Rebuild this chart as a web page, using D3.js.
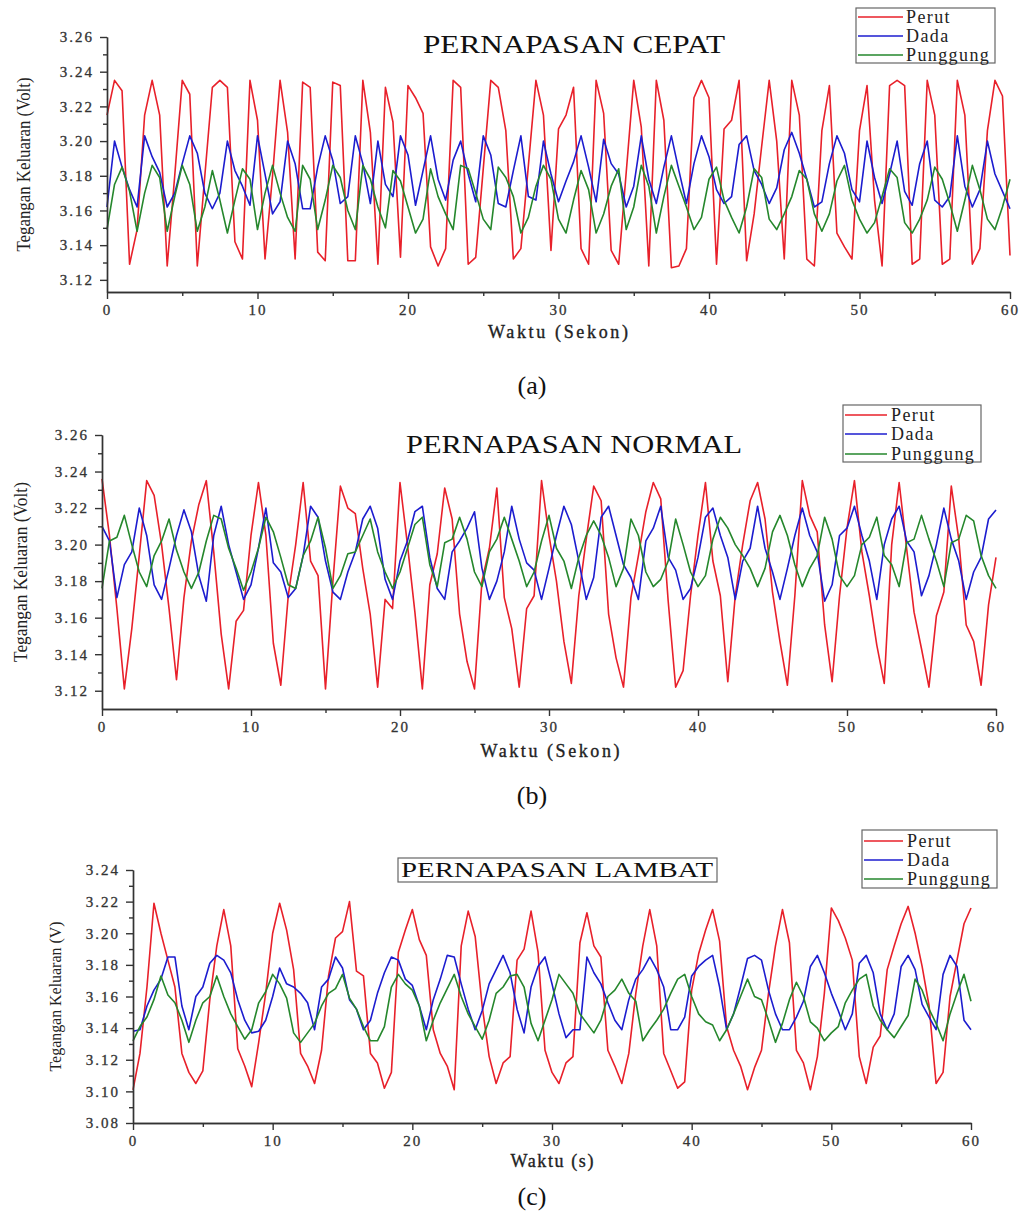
<!DOCTYPE html>
<html lang="en">
<head>
<meta charset="UTF-8">
<title>Pernapasan</title>
<script src="https://d3js.org/d3.v7.min.js"></script>
<style>
    body, html { margin: 0; padding: 0; background: #fff; }
    svg { display: block; }
    .tick text { font-family: "Liberation Serif", "Times New Roman", serif; font-size: 15px; fill: #333; letter-spacing: 2px; stroke: #333; stroke-width: 0.3px; }
    .axis path, .axis line { stroke: #333; stroke-width: 1.4px; }
</style>
</head>
<body>
<div id="chart"></div>
<script>
    // sampling every 0.5 s, 0..60 s
    const waktu = d3.range(0, 60.5, 0.5);

    const xTicks = [0, 10, 20, 30, 40, 50, 60];
    const seriesNames = ["Perut", "Dada", "Punggung"];

    // (a) pernapasan cepat
    const cepatPerut = [
        3.215, 3.235, 3.229, 3.129, 3.149, 3.215, 3.235, 3.215, 3.128, 3.180,
        3.235, 3.227, 3.128, 3.180, 3.231, 3.235, 3.231, 3.142, 3.132, 3.235,
        3.212, 3.132, 3.180, 3.235, 3.205, 3.132, 3.234, 3.231, 3.136, 3.131,
        3.234, 3.232, 3.131, 3.131, 3.235, 3.205, 3.129, 3.231, 3.211, 3.133,
        3.232, 3.225, 3.216, 3.139, 3.128, 3.138, 3.235, 3.231, 3.129, 3.133,
        3.184, 3.235, 3.231, 3.206, 3.132, 3.138, 3.186, 3.235, 3.215, 3.137,
        3.207, 3.215, 3.231, 3.138, 3.129, 3.235, 3.216, 3.137, 3.129, 3.182,
        3.235, 3.208, 3.128, 3.235, 3.212, 3.127, 3.128, 3.138, 3.225, 3.235,
        3.225, 3.129, 3.207, 3.212, 3.235, 3.131, 3.158, 3.197, 3.235, 3.200,
        3.132, 3.235, 3.215, 3.132, 3.128, 3.206, 3.232, 3.147, 3.139, 3.132,
        3.206, 3.232, 3.166, 3.128, 3.232, 3.235, 3.232, 3.129, 3.132, 3.235,
        3.215, 3.129, 3.132, 3.235, 3.215, 3.129, 3.138, 3.206, 3.235, 3.226,
        3.134
    ];
    const cepatDada = [
        3.162, 3.200, 3.185, 3.172, 3.162, 3.203, 3.191, 3.182, 3.162, 3.170,
        3.187, 3.203, 3.193, 3.170, 3.161, 3.170, 3.200, 3.183, 3.174, 3.163,
        3.203, 3.181, 3.158, 3.165, 3.200, 3.187, 3.161, 3.161, 3.185, 3.203,
        3.189, 3.164, 3.168, 3.203, 3.187, 3.164, 3.200, 3.175, 3.168, 3.203,
        3.192, 3.163, 3.183, 3.203, 3.178, 3.166, 3.189, 3.200, 3.181, 3.165,
        3.203, 3.192, 3.164, 3.162, 3.183, 3.203, 3.168, 3.166, 3.200, 3.181,
        3.165, 3.177, 3.188, 3.203, 3.185, 3.165, 3.201, 3.187, 3.181, 3.162,
        3.174, 3.203, 3.178, 3.164, 3.185, 3.203, 3.183, 3.164, 3.187, 3.203,
        3.191, 3.172, 3.164, 3.168, 3.198, 3.203, 3.183, 3.175, 3.164, 3.173,
        3.195, 3.205, 3.193, 3.178, 3.162, 3.165, 3.187, 3.203, 3.193, 3.172,
        3.165, 3.200, 3.179, 3.164, 3.181, 3.200, 3.171, 3.163, 3.187, 3.200,
        3.166, 3.162, 3.168, 3.203, 3.174, 3.162, 3.172, 3.200, 3.181, 3.171,
        3.161
    ];
    const cepatPunggung = [
        3.149, 3.175, 3.185, 3.171, 3.148, 3.170, 3.186, 3.179, 3.148, 3.168,
        3.186, 3.175, 3.148, 3.162, 3.183, 3.166, 3.147, 3.166, 3.184, 3.178,
        3.149, 3.170, 3.186, 3.170, 3.156, 3.148, 3.186, 3.178, 3.149, 3.166,
        3.186, 3.179, 3.160, 3.149, 3.186, 3.178, 3.162, 3.150, 3.183, 3.177,
        3.162, 3.147, 3.155, 3.184, 3.168, 3.158, 3.149, 3.186, 3.184, 3.170,
        3.155, 3.149, 3.185, 3.179, 3.168, 3.147, 3.156, 3.174, 3.186, 3.178,
        3.155, 3.147, 3.166, 3.183, 3.172, 3.147, 3.158, 3.174, 3.184, 3.149,
        3.162, 3.186, 3.174, 3.147, 3.168, 3.186, 3.174, 3.162, 3.149, 3.156,
        3.178, 3.185, 3.166, 3.156, 3.147, 3.162, 3.184, 3.179, 3.155, 3.149,
        3.158, 3.168, 3.183, 3.178, 3.158, 3.148, 3.158, 3.177, 3.186, 3.166,
        3.155, 3.147, 3.153, 3.168, 3.184, 3.179, 3.153, 3.147, 3.155, 3.166,
        3.185, 3.178, 3.164, 3.148, 3.166, 3.186, 3.172, 3.155, 3.149, 3.162,
        3.178
    ];
    const cepatYTicks = [3.12, 3.14, 3.16, 3.18, 3.20, 3.22, 3.24, 3.26];

    // (b) pernapasan normal
    const normalPerut = [
        3.236, 3.205, 3.165, 3.121, 3.154, 3.194, 3.235, 3.227, 3.200, 3.165,
        3.126, 3.171, 3.202, 3.222, 3.235, 3.196, 3.151, 3.121, 3.158, 3.164,
        3.205, 3.234, 3.205, 3.146, 3.123, 3.172, 3.200, 3.234, 3.191, 3.183,
        3.121, 3.180, 3.232, 3.220, 3.217, 3.187, 3.162, 3.122, 3.170, 3.165,
        3.234, 3.200, 3.163, 3.121, 3.178, 3.195, 3.231, 3.214, 3.162, 3.136,
        3.121, 3.180, 3.198, 3.231, 3.171, 3.154, 3.122, 3.165, 3.172, 3.235,
        3.205, 3.180, 3.147, 3.124, 3.172, 3.203, 3.232, 3.224, 3.162, 3.138,
        3.122, 3.171, 3.194, 3.218, 3.234, 3.225, 3.169, 3.122, 3.131, 3.172,
        3.205, 3.234, 3.191, 3.172, 3.125, 3.172, 3.200, 3.224, 3.234, 3.214,
        3.174, 3.147, 3.123, 3.172, 3.235, 3.216, 3.207, 3.156, 3.125, 3.172,
        3.209, 3.235, 3.196, 3.172, 3.145, 3.124, 3.200, 3.234, 3.198, 3.163,
        3.143, 3.122, 3.161, 3.174, 3.232, 3.203, 3.156, 3.147, 3.123, 3.167,
        3.193
    ];
    const normalDada = [
        3.210, 3.202, 3.171, 3.189, 3.196, 3.220, 3.205, 3.178, 3.170, 3.187,
        3.205, 3.219, 3.207, 3.183, 3.169, 3.205, 3.221, 3.200, 3.185, 3.170,
        3.178, 3.198, 3.220, 3.190, 3.185, 3.171, 3.176, 3.194, 3.221, 3.215,
        3.191, 3.174, 3.170, 3.185, 3.196, 3.214, 3.221, 3.209, 3.181, 3.170,
        3.191, 3.202, 3.218, 3.221, 3.193, 3.176, 3.170, 3.196, 3.202, 3.209,
        3.218, 3.187, 3.170, 3.180, 3.196, 3.221, 3.203, 3.190, 3.186, 3.170,
        3.187, 3.205, 3.221, 3.211, 3.191, 3.170, 3.182, 3.215, 3.221, 3.205,
        3.189, 3.182, 3.170, 3.202, 3.209, 3.221, 3.193, 3.186, 3.170, 3.176,
        3.193, 3.215, 3.220, 3.205, 3.193, 3.170, 3.191, 3.198, 3.221, 3.198,
        3.185, 3.170, 3.187, 3.205, 3.220, 3.205, 3.196, 3.169, 3.178, 3.205,
        3.209, 3.221, 3.205, 3.191, 3.170, 3.200, 3.214, 3.221, 3.202, 3.196,
        3.172, 3.183, 3.200, 3.220, 3.203, 3.191, 3.170, 3.185, 3.193, 3.214,
        3.219
    ];
    const normalPunggung = [
        3.176, 3.202, 3.204, 3.216, 3.200, 3.185, 3.177, 3.194, 3.202, 3.214,
        3.197, 3.185, 3.176, 3.185, 3.202, 3.216, 3.214, 3.198, 3.187, 3.175,
        3.185, 3.198, 3.215, 3.207, 3.193, 3.178, 3.176, 3.194, 3.202, 3.215,
        3.198, 3.176, 3.183, 3.195, 3.196, 3.205, 3.214, 3.196, 3.185, 3.176,
        3.185, 3.198, 3.211, 3.215, 3.189, 3.177, 3.201, 3.203, 3.215, 3.203,
        3.185, 3.177, 3.196, 3.203, 3.215, 3.203, 3.191, 3.177, 3.185, 3.202,
        3.216, 3.198, 3.191, 3.176, 3.193, 3.205, 3.213, 3.205, 3.193, 3.177,
        3.187, 3.214, 3.205, 3.185, 3.177, 3.181, 3.191, 3.214, 3.200, 3.185,
        3.177, 3.183, 3.203, 3.215, 3.209, 3.200, 3.194, 3.187, 3.177, 3.187,
        3.207, 3.216, 3.205, 3.189, 3.177, 3.187, 3.194, 3.215, 3.203, 3.183,
        3.177, 3.183, 3.200, 3.204, 3.215, 3.194, 3.189, 3.177, 3.201, 3.203,
        3.216, 3.203, 3.191, 3.177, 3.201, 3.203, 3.216, 3.213, 3.194, 3.183,
        3.176
    ];
    const normalYTicks = [3.12, 3.14, 3.16, 3.18, 3.20, 3.22, 3.24, 3.26];

    // (c) pernapasan lambat
    const lambatPerut = [
        3.101, 3.124, 3.166, 3.219, 3.200, 3.183, 3.166, 3.124, 3.112, 3.105,
        3.113, 3.158, 3.192, 3.215, 3.192, 3.127, 3.116, 3.103, 3.131, 3.162,
        3.200, 3.219, 3.202, 3.177, 3.124, 3.116, 3.105, 3.126, 3.173, 3.197,
        3.201, 3.220, 3.176, 3.173, 3.124, 3.118, 3.102, 3.112, 3.188, 3.202,
        3.215, 3.196, 3.186, 3.139, 3.124, 3.116, 3.101, 3.192, 3.214, 3.198,
        3.154, 3.122, 3.105, 3.118, 3.122, 3.183, 3.190, 3.214, 3.188, 3.126,
        3.112, 3.105, 3.118, 3.122, 3.194, 3.213, 3.192, 3.185, 3.126, 3.116,
        3.105, 3.124, 3.162, 3.192, 3.215, 3.192, 3.124, 3.113, 3.102, 3.106,
        3.164, 3.187, 3.202, 3.215, 3.195, 3.141, 3.126, 3.116, 3.101, 3.115,
        3.126, 3.162, 3.192, 3.215, 3.194, 3.126, 3.118, 3.101, 3.122, 3.162,
        3.216, 3.208, 3.197, 3.183, 3.122, 3.105, 3.128, 3.135, 3.177, 3.192,
        3.206, 3.217, 3.200, 3.179, 3.154, 3.105, 3.112, 3.160, 3.183, 3.206,
        3.216
    ];
    const lambatDada = [
        3.138, 3.139, 3.154, 3.164, 3.171, 3.185, 3.185, 3.154, 3.139, 3.160,
        3.166, 3.181, 3.186, 3.183, 3.175, 3.158, 3.145, 3.137, 3.138, 3.145,
        3.160, 3.178, 3.168, 3.166, 3.162, 3.156, 3.139, 3.166, 3.171, 3.185,
        3.178, 3.158, 3.152, 3.139, 3.145, 3.162, 3.175, 3.185, 3.183, 3.171,
        3.167, 3.154, 3.139, 3.158, 3.171, 3.186, 3.185, 3.168, 3.152, 3.139,
        3.151, 3.168, 3.177, 3.186, 3.175, 3.152, 3.137, 3.166, 3.179, 3.185,
        3.168, 3.149, 3.134, 3.139, 3.139, 3.185, 3.175, 3.168, 3.156, 3.145,
        3.139, 3.158, 3.171, 3.177, 3.185, 3.177, 3.166, 3.139, 3.139, 3.147,
        3.173, 3.179, 3.183, 3.186, 3.166, 3.139, 3.149, 3.166, 3.184, 3.186,
        3.183, 3.164, 3.149, 3.139, 3.139, 3.147, 3.157, 3.179, 3.186, 3.175,
        3.162, 3.151, 3.139, 3.149, 3.181, 3.186, 3.175, 3.149, 3.139, 3.149,
        3.179, 3.186, 3.177, 3.155, 3.147, 3.139, 3.174, 3.186, 3.179, 3.145,
        3.139
    ];
    const lambatPunggung = [
        3.132, 3.141, 3.147, 3.158, 3.173, 3.161, 3.156, 3.145, 3.131, 3.145,
        3.156, 3.160, 3.173, 3.160, 3.149, 3.141, 3.133, 3.139, 3.156, 3.163,
        3.174, 3.168, 3.159, 3.137, 3.131, 3.137, 3.143, 3.154, 3.162, 3.165,
        3.174, 3.159, 3.152, 3.141, 3.132, 3.132, 3.141, 3.166, 3.174, 3.168,
        3.164, 3.154, 3.132, 3.145, 3.156, 3.165, 3.174, 3.160, 3.149, 3.141,
        3.133, 3.145, 3.162, 3.166, 3.173, 3.174, 3.166, 3.143, 3.132, 3.145,
        3.158, 3.174, 3.168, 3.162, 3.149, 3.143, 3.137, 3.145, 3.160, 3.164,
        3.171, 3.162, 3.157, 3.132, 3.139, 3.145, 3.152, 3.162, 3.171, 3.174,
        3.160, 3.149, 3.144, 3.142, 3.132, 3.139, 3.149, 3.160, 3.171, 3.160,
        3.158, 3.145, 3.131, 3.143, 3.158, 3.169, 3.160, 3.144, 3.140, 3.132,
        3.137, 3.141, 3.156, 3.164, 3.171, 3.174, 3.154, 3.145, 3.139, 3.134,
        3.141, 3.148, 3.171, 3.164, 3.152, 3.143, 3.132, 3.149, 3.162, 3.174,
        3.157
    ];
    const lambatYTicks = [3.08, 3.10, 3.12, 3.14, 3.16, 3.18, 3.20, 3.22, 3.24];

    const colors = ["#e8202a", "#1c1ccf", "#25872c"];
    const serif = '"Liberation Serif", "Times New Roman", serif';

    const panels = [
        {
            title: "PERNAPASAN CEPAT", titleX: 574, titleY: 53, titleLen: 302, titleSize: 25,
            yLabel: "Tegangan Keluaran (Volt)", yLabelX: 23, yLabelLen: 174, yLabelSize: 19,
            xLabel: "Waktu (Sekon)", xLabelX: 558, xLabelY: 338, xLabelLen: 140,
            tag: "(a)", tagY: 394,
            left: 107, right: 1010, top: 37, bottom: 292,
            yDomain: [3.113, 3.26], yTicks: cepatYTicks,
            series: [cepatPerut, cepatDada, cepatPunggung],
            legend: { x: 856, y: 8, w: 139, h: 55, rows: [17, 36, 55], line: [858, 903], text: 906 }
        },
        {
            title: "PERNAPASAN NORMAL", titleX: 574, titleY: 453, titleLen: 336, titleSize: 25,
            yLabel: "Tegangan Keluaran (Volt)", yLabelX: 20, yLabelLen: 180, yLabelSize: 19,
            xLabel: "Waktu (Sekon)", xLabelX: 550, xLabelY: 757, xLabelLen: 139,
            tag: "(b)", tagY: 804,
            left: 102, right: 996, top: 435, bottom: 709,
            yDomain: [3.110, 3.26], yTicks: normalYTicks,
            series: [normalPerut, normalDada, normalPunggung],
            legend: { x: 843, y: 405, w: 138, h: 57, rows: [415, 434, 454], line: [845, 887], text: 891 }
        },
        {
            title: "PERNAPASAN LAMBAT", titleX: 557, titleY: 877, titleLen: 312, titleSize: 21,
            titleBox: { x: 398, y: 858, w: 319, h: 24 },
            yLabel: "Tegangan Keluaran (V)", yLabelX: 55, yLabelLen: 150, yLabelSize: 17,
            xLabel: "Waktu (s)", xLabelX: 552, xLabelY: 1167, xLabelLen: 83,
            tag: "(c)", tagY: 1205,
            left: 133, right: 971, top: 870, bottom: 1123,
            yDomain: [3.08, 3.24], yTicks: lambatYTicks,
            series: [lambatPerut, lambatDada, lambatPunggung],
            legend: { x: 862, y: 830, w: 135, h: 58, rows: [841, 860, 879], line: [864, 903], text: 907 }
        }
    ];

    const svg = d3.select("#chart").append("svg")
        .attr("width", 1024)
        .attr("height", 1214);

    svg.append("rect").attr("width", 1024).attr("height", 1214).attr("fill", "#fff");

    panels.forEach(drawPanel);

    function drawPanel(p) {
        const g = svg.append("g");

        const x = d3.scaleLinear().domain([0, 60]).range([p.left, p.right]);
        const y = d3.scaleLinear().domain(p.yDomain).range([p.bottom, p.top]);

        // the traces
        const line = d3.line()
            .x((d, i) => x(waktu[i]))
            .y(d => y(d));

        p.series.forEach((vals, k) => {
            g.append("path")
                .datum(vals)
                .attr("d", line)
                .attr("fill", "none")
                .attr("stroke", colors[k])
                .attr("stroke-width", 1.6)
                .attr("stroke-linejoin", "round");
        });

        // minor ticks first, then the major axes over them
        const yMinor = d3.range(p.yTicks[0] + 0.01, p.yDomain[1], 0.02);
        g.append("g").attr("class", "axis")
            .attr("transform", `translate(${p.left},0)`)
            .call(d3.axisLeft(y).tickValues(yMinor).tickSize(4).tickSizeOuter(0).tickFormat(""));
        g.append("g").attr("class", "axis")
            .attr("transform", `translate(${p.left},0)`)
            .call(d3.axisLeft(y).tickValues(p.yTicks).tickSize(7).tickSizeOuter(0)
                .tickPadding(6).tickFormat(d3.format(".2f")));

        const xMinor = [5, 15, 25, 35, 45, 55];
        g.append("g").attr("class", "axis")
            .attr("transform", `translate(0,${p.bottom})`)
            .call(d3.axisBottom(x).tickValues(xMinor).tickSize(4).tickSizeOuter(0).tickFormat(""));
        g.append("g").attr("class", "axis")
            .attr("transform", `translate(0,${p.bottom})`)
            .call(d3.axisBottom(x).tickValues(xTicks).tickSize(7).tickSizeOuter(0).tickPadding(5));

        // titles
        if (p.titleBox) {
            g.append("rect")
                .attr("x", p.titleBox.x).attr("y", p.titleBox.y)
                .attr("width", p.titleBox.w).attr("height", p.titleBox.h)
                .attr("fill", "none").attr("stroke", "#666").attr("stroke-width", 1.2);
        }
        g.append("text")
            .attr("x", p.titleX).attr("y", p.titleY)
            .attr("text-anchor", "middle")
            .attr("textLength", p.titleLen)
            .attr("lengthAdjust", "spacingAndGlyphs")
            .style("font-family", serif).style("font-size", p.titleSize + "px")
            .style("fill", "#111")
            .text(p.title);

        g.append("text")
            .attr("x", p.xLabelX).attr("y", p.xLabelY)
            .attr("text-anchor", "middle")
            .attr("textLength", p.xLabelLen)
            .attr("lengthAdjust", "spacing")
            .style("font-family", serif).style("font-size", "18px")
            .style("fill", "#222").style("stroke", "#222").style("stroke-width", 0.35)
            .text(p.xLabel);

        const yMid = (p.top + p.bottom) / 2;
        g.append("text")
            .attr("transform", `translate(${p.yLabelX},${yMid}) rotate(-90)`)
            .attr("text-anchor", "middle")
            .attr("dy", "0.35em")
            .attr("textLength", p.yLabelLen)
            .attr("lengthAdjust", "spacingAndGlyphs")
            .style("font-family", serif).style("font-size", p.yLabelSize + "px")
            .style("fill", "#222")
            .text(p.yLabel);

        g.append("text")
            .attr("x", 532).attr("y", p.tagY)
            .attr("text-anchor", "middle")
            .style("font-family", serif).style("font-size", "26px")
            .style("fill", "#111")
            .text(p.tag);

        // legend
        const lg = p.legend;
        g.append("rect")
            .attr("x", lg.x).attr("y", lg.y)
            .attr("width", lg.w).attr("height", lg.h)
            .attr("fill", "#fff").attr("stroke", "#666").attr("stroke-width", 1.2);
        seriesNames.forEach((name, k) => {
            g.append("line")
                .attr("x1", lg.line[0]).attr("x2", lg.line[1])
                .attr("y1", lg.rows[k]).attr("y2", lg.rows[k])
                .attr("stroke", colors[k]).attr("stroke-width", 1.6);
            g.append("text")
                .attr("x", lg.text).attr("y", lg.rows[k])
                .attr("dy", "0.33em")
                .style("font-family", serif).style("font-size", "18px")
                .style("letter-spacing", "1.4px")
                .style("fill", "#222")
                .text(name);
        });
    }
</script>
</body>
</html>
